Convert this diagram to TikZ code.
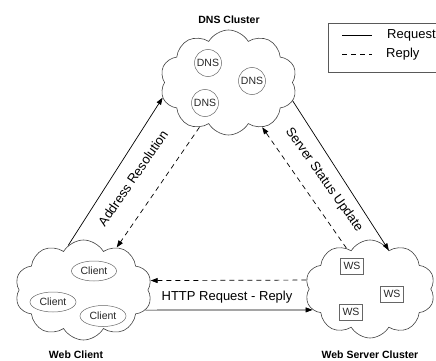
\documentclass[tikz,border=0pt]{standalone}
\usepackage{fontspec}
\setmainfont{Liberation Sans}
\usetikzlibrary{shapes.symbols,shapes.geometric,arrows.meta}
\begin{document}
\begin{tikzpicture}[x=1pt,y=-1pt,
  wolke/.style={cloud,cloud puffs=10,cloud puff arc=120,aspect=1.3,draw=black!75,line width=0.6pt,inner sep=0pt},
  titel/.style={font=\bfseries\fontsize{10.5}{12}\selectfont},
  beschr/.style={font=\fontsize{13}{15}\selectfont},
  innen/.style={draw=black!60,line width=0.5pt,inner sep=0pt,text=black!85,font=\fontsize{10.5}{12}\selectfont},
  anfrage/.style={-{Triangle[length=7pt,width=5pt]},line width=0.7pt},
  antwort/.style={anfrage,dash pattern=on 5pt off 4pt}]
\useasboundingbox (0,0) rectangle (436,361);
\clip (0,0) rectangle (436,361);

% DNS-Cluster
\node[wolke,minimum width=137pt,minimum height=105pt] (dns) at (228.5,82.5) {};
\node[titel] (dnstitel) at (229,20) {DNS Cluster};
\node[innen,circle,minimum size=27pt] (dns1) at (208,63) {DNS};
\node[innen,circle,minimum size=27pt] (dns2) at (252,81) {DNS};
\node[innen,circle,minimum size=27pt] (dns3) at (205,103) {DNS};

% Web-Client
\node[wolke,minimum width=137pt,minimum height=100pt] (client) at (83.5,290) {};
\node[titel] (clienttitel) at (76,355) {Web Client};
\node[innen,ellipse,minimum width=45pt,minimum height=20pt] (c1) at (94,271) {Client};
\node[innen,ellipse,minimum width=46pt,minimum height=20pt] (c2) at (53,302) {Client};
\node[innen,ellipse,minimum width=46pt,minimum height=21pt] (c3) at (103,316) {Client};

% Web-Server-Cluster
\node[wolke,minimum width=130pt,minimum height=98pt] (ws) at (370,289) {};
\node[titel] (wstitel) at (370,355) {Web Server Cluster};
\node[innen,rectangle,minimum width=23pt,minimum height=16pt] (ws1) at (352,266) {WS};
\node[innen,rectangle,minimum width=23pt,minimum height=16pt] (ws2) at (392,294) {WS};
\node[innen,rectangle,minimum width=23pt,minimum height=16pt] (ws3) at (351,312) {WS};

% Adressaufloesung
\draw[anfrage] (client.109.6) -- (dns.193.5);
\draw[antwort] (dns.237.5) -- (client.52);
\node[beschr,rotate=55.6] (adr) at (133,178) {Address Resolution};

% Statusmeldung der Server
\draw[anfrage] (dns.-16.8) -- (ws.64);
\draw[antwort] (ws.120) -- (dns.-53.7);
\node[beschr,rotate=-54.7] (status) at (324,180) {Server Status Update};

% HTTP
\draw[antwort] (ws.172) -- (client.8.5);
\draw[anfrage] (client.-18.9) -- (ws.200.8);
\node[beschr] (http) at (227,297) {HTTP Request - Reply};

% Legende
\draw[draw=black!65,line width=0.6pt] (328,23) rectangle (460,72);
\coordinate (l1a) at (342,35);
\coordinate (l1b) at (372,35);
\coordinate (l2a) at (342,54);
\coordinate (l2b) at (372,54);
\draw[line width=0.7pt] (l1a) -- (l1b);
\draw[line width=0.7pt,dash pattern=on 5pt off 4pt] (l2a) -- (l2b);
\node[beschr,anchor=west,inner sep=0pt] (req) at (387,35) {Request};
\node[beschr,anchor=west,inner sep=0pt] (rep) at (386,54) {Reply};
\end{tikzpicture}
\end{document}
